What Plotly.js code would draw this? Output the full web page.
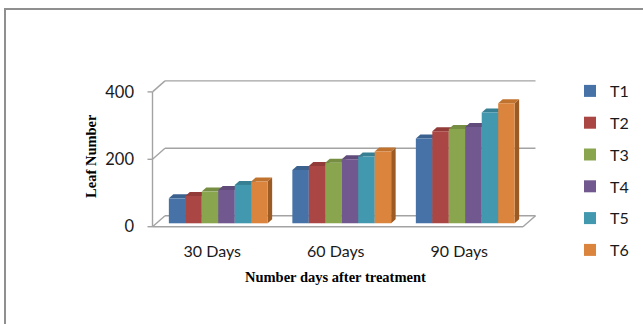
<!DOCTYPE html>
<html>
<head>
<meta charset="utf-8">
<script src="https://cdn.plot.ly/plotly-3.0.1.min.js"></script>
<style>
  html, body { margin: 0; padding: 0; background: #ffffff; }
  #wrap { position: relative; width: 643px; height: 324px; overflow: hidden; }
  #chart { position: absolute; left: 0; top: 0; width: 643px; height: 324px; }
  #frame { position: absolute; left: 4px; top: 8px; width: 700px; height: 400px;
           border: 2px solid #8f8f8f; box-sizing: border-box; pointer-events: none; }
</style>
</head>
<body>
<div id="wrap">
  <div id="chart"></div>
  <div id="frame"></div>
</div>
<script>
// ---- data ----
const categories = ['30 Days', '60 Days', '90 Days'];
const seriesNames = ['T1', 'T2', 'T3', 'T4', 'T5', 'T6'];
const T1 = [74, 158, 252];
const T2 = [81, 170, 273];
const T3 = [94, 180, 280];
const T4 = [99, 190, 286];
const T5 = [114, 198, 329];
const T6 = [124, 213, 356];
const seriesValues = [T1, T2, T3, T4, T5, T6];
const yTicks = [0, 200, 400];

// ---- colours: front face, top face, side face ----
const frontColors = ['#4672A8', '#AA4643', '#89A54E', '#71588F', '#4198AF', '#DB843D'];
const topColors   = ['#3B618F', '#923B39', '#758E42', '#604B7A', '#377F93', '#C0722F'];
const sideColors  = ['#2F4E75', '#7A302E', '#5F7336', '#4E3D63', '#2C6676', '#9C5A24'];

// ---- pseudo-3D geometry (pixels) ----
const W = 643, H = 324;
const plotLeft = 149, plotRight = 538, plotTop = 78, plotBottom = 230;
const catPx = 123.5;          // pixels per category
const valPx = 0.337;          // pixels per value unit
const originX = 156.5;        // left edge (category -0.5) of the bar plane
const originY = 223.3;        // value 0 on the bar plane
const FRONT = {x: -4, y: -3.4};   // floor front edge relative to bar plane (right, up)
const DEPTH = {x: 4.5, y: 4};     // bar depth
const BACK  = {x: 8.5, y: 7.6};   // back wall relative to bar plane

const xRange = [-0.5 - (originX - plotLeft) / catPx, -0.5 + (plotRight - originX) / catPx];
const yRange = [-(plotBottom - originY) / valPx, (originY - plotTop) / valPx];
const dx = px => px / catPx;
const dy = px => px / valPx;

const nSeries = seriesValues.length;
const groupWidth = 0.8;
const barW = groupWidth / nSeries;

const gridStyle = {color: '#a3a3a3', width: 1.4};
const shapes = [];

// back wall grid lines and left wall diagonals
const backLeftX = -0.5 + dx(BACK.x);
const frontLeftX = -0.5 + dx(FRONT.x);
const backRightX = categories.length - 0.5 + dx(BACK.x);
const frontRightX = categories.length - 0.5 + dx(FRONT.x);
yTicks.forEach(v => {
  shapes.push({type: 'line', xref: 'x', yref: 'y', layer: 'below',
    x0: backLeftX, y0: v + dy(BACK.y), x1: backRightX, y1: v + dy(BACK.y), line: gridStyle});
  shapes.push({type: 'line', xref: 'x', yref: 'y', layer: 'below',
    x0: frontLeftX, y0: v + dy(FRONT.y), x1: backLeftX, y1: v + dy(BACK.y), line: gridStyle});
  // tick marks on the front vertical edge
  shapes.push({type: 'line', xref: 'paper', yref: 'y', layer: 'below',
    x0: (frontLeftX - xRange[0]) / (xRange[1] - xRange[0]) - 5 / (plotRight - plotLeft),
    x1: (frontLeftX - xRange[0]) / (xRange[1] - xRange[0]),
    y0: v + dy(FRONT.y), y1: v + dy(FRONT.y), line: gridStyle});
});
// front vertical edge
shapes.push({type: 'line', xref: 'x', yref: 'y', layer: 'below',
  x0: frontLeftX, y0: yTicks[0] + dy(FRONT.y), x1: frontLeftX, y1: yTicks[yTicks.length - 1] + dy(FRONT.y),
  line: gridStyle});
// floor front edge and right edge
shapes.push({type: 'line', xref: 'x', yref: 'y', layer: 'below',
  x0: frontLeftX, y0: dy(FRONT.y), x1: frontRightX, y1: dy(FRONT.y), line: gridStyle});
shapes.push({type: 'line', xref: 'x', yref: 'y', layer: 'below',
  x0: frontRightX, y0: dy(FRONT.y), x1: backRightX, y1: dy(BACK.y), line: gridStyle});

// top and side faces of each bar (front faces are the bar traces)
seriesValues.forEach((vals, i) => {
  vals.forEach((v, j) => {
    const xl = j - groupWidth / 2 + i * barW;
    const xr = xl + barW;
    const ddx = dx(DEPTH.x), ddy = dy(DEPTH.y);
    shapes.push({type: 'path', xref: 'x', yref: 'y', layer: 'below',
      path: `M${xr},0 L${xr},${v} L${xr + ddx},${v + ddy} L${xr + ddx},${ddy} Z`,
      fillcolor: sideColors[i], line: {width: 0}});
    shapes.push({type: 'path', xref: 'x', yref: 'y', layer: 'below',
      path: `M${xl},${v} L${xr},${v} L${xr + ddx},${v + ddy} L${xl + ddx},${v + ddy} Z`,
      fillcolor: topColors[i], line: {width: 0}});
  });
});

const traces = seriesValues.map((vals, i) => ({
  type: 'bar',
  name: seriesNames[i],
  x: [0, 1, 2],
  y: vals,
  legendgroup: seriesNames[i],
  marker: {color: frontColors[i], line: {width: 0}},
  hoverinfo: 'name+y'
}));

const tickFont = {family: 'Lato, "Open Sans", sans-serif', size: 16, color: '#1a1a1a'};
const titleFont = {family: '"Liberation Serif", "Times New Roman", serif', size: 14.5, color: '#000000'};

const layout = {
  width: W, height: H,
  margin: {l: plotLeft, r: W - plotRight, t: plotTop, b: H - plotBottom, pad: 0},
  paper_bgcolor: '#ffffff', plot_bgcolor: 'rgba(0,0,0,0)',
  barmode: 'group', bargap: 1 - groupWidth, bargroupgap: 0,
  showlegend: true,
  legend: {
    xref: 'container', yref: 'container',
    x: 570 / W, xanchor: 'left', y: 1 - 74 / H, yanchor: 'top',
    traceorder: 'grouped', tracegroupgap: 8, maxheight: 300,
    font: tickFont, bgcolor: 'rgba(0,0,0,0)', borderwidth: 0
  },
  xaxis: {
    range: xRange, tickvals: [0, 1, 2], ticktext: categories,
    showgrid: false, zeroline: false, showline: false, ticks: '',
    tickfont: tickFont, ticklabelshift: -6, ticklabelstandoff: 10, fixedrange: true
  },
  yaxis: {
    // value labels sit on the front edge of the left wall
    range: yRange, tickvals: yTicks.map(v => v + dy(FRONT.y)), ticktext: yTicks.map(String),
    showgrid: false, zeroline: false, showline: false, ticks: '',
    tickfont: {...tickFont, size: 16.5}, ticklabelstandoff: 14, fixedrange: true
  },
  shapes: shapes,
  annotations: [
    {text: '<b>Leaf Number</b>', textangle: -90, font: titleFont, showarrow: false,
     xref: 'paper', x: 0, xanchor: 'center', xshift: 91 - plotLeft,
     yref: 'y', y: 200, yanchor: 'middle'},
    {text: '<b>Number days after treatment</b>', font: titleFont, showarrow: false,
     xref: 'x', x: 1, xanchor: 'center', xshift: -6,
     yref: 'paper', y: 0, yanchor: 'middle', yshift: -(277 - plotBottom)}
  ]
};

Plotly.newPlot('chart', traces, layout, {displayModeBar: false, staticPlot: true});
</script>
</body>
</html>
